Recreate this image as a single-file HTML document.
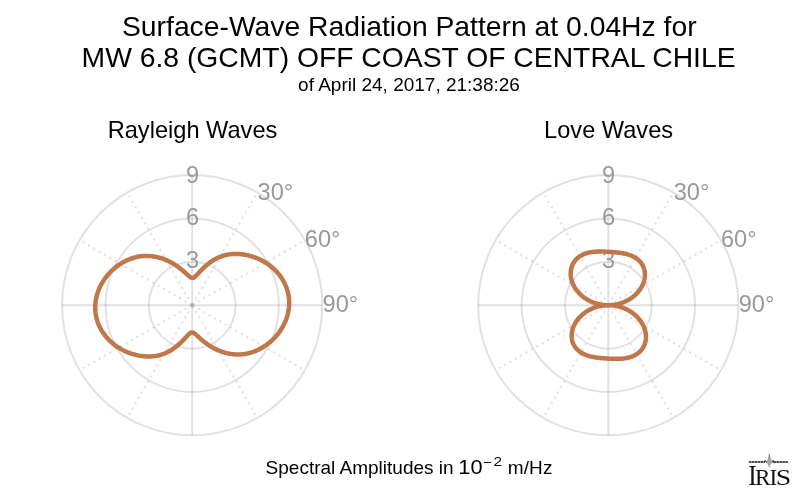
<!DOCTYPE html>
<html><head><meta charset="utf-8">
<style>
html,body{margin:0;padding:0;background:#fff;}
body{width:800px;height:496px;overflow:hidden;}
svg{display:block;}
text{font-family:"Liberation Sans",sans-serif;fill:#000;}
.g{fill:none;stroke:rgba(0,0,0,0.118);stroke-width:1.95;}
.gd{fill:none;stroke:rgba(0,0,0,0.118);stroke-width:2.1;stroke-dasharray:2.1 4.1;stroke-dashoffset:-0.5;}
.tk{font-size:23.6px;fill:#999;}
.c{fill:none;stroke:#c0774a;stroke-width:4.5;stroke-linejoin:round;}
.t1{font-size:28.3px;}
.t3{font-size:19px;}
.st{font-size:23.6px;}
.lg{font-family:"Liberation Serif",serif;fill:#111;}
</style></head><body>
<svg width="800" height="496" viewBox="0 0 800 496">
<rect width="800" height="496" fill="#fff"/>
<defs><filter id="idf" x="0" y="0" width="800" height="496" filterUnits="userSpaceOnUse"><feOffset dx="0" dy="0"/></filter></defs>
<g filter="url(#idf)">
<text class="t1" text-anchor="middle" x="409.3" y="36.4">Surface-Wave Radiation Pattern at 0.04Hz for</text>
<text class="t1" text-anchor="middle" x="408.6" y="66.7">MW 6.8 (GCMT) OFF COAST OF CENTRAL CHILE</text>
<text class="t3" text-anchor="middle" x="409" y="90.6">of April 24, 2017, 21:38:26</text>
<text class="st" text-anchor="middle" x="192.5" y="137.5">Rayleigh Waves</text>
<text class="st" text-anchor="middle" x="608.6" y="137.5">Love Waves</text>
<circle cx="192.2" cy="305.2" r="43.4" class="g"/>
<circle cx="192.2" cy="305.2" r="86.7" class="g"/>
<circle cx="192.2" cy="305.2" r="130.1" class="g"/>
<path class="g" d="M192.2,305.2 L192.20,175.15"/>
<path class="gd" d="M192.2,305.2 L257.22,192.57"/>
<path class="gd" d="M192.2,305.2 L304.83,240.17"/>
<path class="g" d="M192.2,305.2 L322.25,305.20"/>
<path class="gd" d="M192.2,305.2 L304.83,370.22"/>
<path class="gd" d="M192.2,305.2 L257.22,417.83"/>
<path class="g" d="M192.2,305.2 L192.20,435.25"/>
<path class="gd" d="M192.2,305.2 L127.17,417.83"/>
<path class="gd" d="M192.2,305.2 L79.57,370.23"/>
<path class="g" d="M192.2,305.2 L62.15,305.20"/>
<path class="gd" d="M192.2,305.2 L79.57,240.17"/>
<path class="gd" d="M192.2,305.2 L127.17,192.57"/>
<circle cx="608.3" cy="305.2" r="43.4" class="g"/>
<circle cx="608.3" cy="305.2" r="86.7" class="g"/>
<circle cx="608.3" cy="305.2" r="130.1" class="g"/>
<path class="g" d="M608.3,305.2 L608.30,175.15"/>
<path class="gd" d="M608.3,305.2 L673.32,192.57"/>
<path class="gd" d="M608.3,305.2 L720.93,240.17"/>
<path class="g" d="M608.3,305.2 L738.35,305.20"/>
<path class="gd" d="M608.3,305.2 L720.93,370.22"/>
<path class="gd" d="M608.3,305.2 L673.32,417.83"/>
<path class="g" d="M608.3,305.2 L608.30,435.25"/>
<path class="gd" d="M608.3,305.2 L543.27,417.83"/>
<path class="gd" d="M608.3,305.2 L495.67,370.23"/>
<path class="g" d="M608.3,305.2 L478.25,305.20"/>
<path class="gd" d="M608.3,305.2 L495.67,240.17"/>
<path class="gd" d="M608.3,305.2 L543.27,192.57"/>
<text class="tk" text-anchor="middle" x="192.5" y="182.9">9</text>
<text class="tk" text-anchor="middle" x="192.5" y="224.8">6</text>
<text class="tk" text-anchor="middle" x="192.5" y="268.1">3</text>
<text class="tk" x="257.6" y="199.8">30°</text>
<text class="tk" x="304.8" y="247.4">60°</text>
<text class="tk" x="322.6" y="311.9">90°</text>
<text class="tk" text-anchor="middle" x="608.6" y="182.9">9</text>
<text class="tk" text-anchor="middle" x="608.6" y="224.8">6</text>
<text class="tk" text-anchor="middle" x="608.6" y="268.1">3</text>
<text class="tk" x="673.7" y="199.8">30°</text>
<text class="tk" x="720.9" y="247.4">60°</text>
<text class="tk" x="738.7" y="311.9">90°</text>
<path class="c" d="M192.20,278.00 L192.44,278.00 L192.68,277.98 L192.91,277.93 L193.15,277.86 L193.40,277.77 L193.64,277.65 L193.89,277.51 L194.15,277.35 L194.41,277.17 L194.67,276.96 L194.94,276.74 L195.22,276.50 L195.50,276.24 L195.79,275.96 L196.09,275.67 L196.39,275.35 L196.71,275.03 L197.03,274.69 L197.37,274.33 L197.71,273.96 L198.06,273.58 L198.42,273.19 L198.80,272.78 L199.18,272.37 L199.57,271.94 L199.98,271.51 L200.39,271.07 L200.82,270.62 L201.26,270.17 L201.71,269.71 L202.17,269.24 L202.65,268.77 L203.13,268.30 L203.63,267.82 L204.14,267.35 L204.66,266.87 L205.19,266.39 L205.73,265.91 L206.28,265.43 L206.85,264.95 L207.43,264.48 L208.01,264.00 L208.61,263.54 L209.22,263.07 L209.84,262.61 L210.47,262.16 L211.11,261.72 L211.76,261.28 L212.41,260.85 L213.08,260.43 L213.75,260.01 L214.44,259.61 L215.13,259.22 L215.82,258.84 L216.53,258.47 L217.24,258.11 L217.96,257.76 L218.68,257.43 L219.40,257.12 L220.14,256.81 L220.87,256.53 L221.61,256.25 L222.35,256.00 L223.09,255.76 L223.84,255.53 L224.59,255.32 L225.34,255.13 L226.09,254.95 L226.85,254.79 L227.60,254.64 L228.36,254.50 L229.12,254.38 L229.88,254.27 L230.64,254.18 L231.41,254.10 L232.17,254.04 L232.94,253.98 L233.71,253.94 L234.47,253.92 L235.24,253.90 L236.01,253.90 L236.78,253.91 L237.55,253.94 L238.32,253.97 L239.10,254.02 L239.87,254.08 L240.64,254.15 L241.42,254.23 L242.19,254.33 L242.97,254.43 L243.75,254.55 L244.52,254.67 L245.30,254.81 L246.08,254.96 L246.86,255.12 L247.64,255.29 L248.41,255.47 L249.19,255.66 L249.97,255.86 L250.75,256.07 L251.53,256.30 L252.30,256.53 L253.07,256.78 L253.85,257.04 L254.62,257.31 L255.38,257.59 L256.15,257.88 L256.91,258.18 L257.67,258.50 L258.43,258.83 L259.18,259.16 L259.93,259.51 L260.68,259.87 L261.42,260.25 L262.16,260.63 L262.89,261.03 L263.62,261.43 L264.34,261.85 L265.06,262.28 L265.77,262.72 L266.48,263.17 L267.18,263.64 L267.87,264.11 L268.56,264.60 L269.24,265.09 L269.91,265.60 L270.58,266.12 L271.24,266.65 L271.89,267.19 L272.53,267.74 L273.16,268.30 L273.79,268.88 L274.40,269.46 L275.01,270.05 L275.61,270.65 L276.19,271.26 L276.77,271.89 L277.34,272.52 L277.90,273.16 L278.44,273.81 L278.98,274.47 L279.50,275.14 L280.01,275.82 L280.51,276.51 L281.00,277.20 L281.48,277.90 L281.94,278.62 L282.40,279.34 L282.84,280.06 L283.26,280.80 L283.68,281.54 L284.08,282.29 L284.46,283.05 L284.83,283.81 L285.19,284.58 L285.54,285.36 L285.86,286.14 L286.18,286.93 L286.48,287.73 L286.76,288.53 L287.03,289.33 L287.29,290.14 L287.52,290.95 L287.75,291.77 L287.95,292.59 L288.14,293.42 L288.32,294.25 L288.47,295.08 L288.62,295.92 L288.74,296.75 L288.85,297.59 L288.94,298.44 L289.01,299.28 L289.07,300.12 L289.12,300.97 L289.14,301.81 L289.15,302.66 L289.15,303.51 L289.13,304.35 L289.09,305.20 L289.04,306.05 L288.97,306.89 L288.89,307.73 L288.79,308.57 L288.67,309.41 L288.55,310.25 L288.40,311.08 L288.24,311.92 L288.07,312.75 L287.88,313.57 L287.68,314.39 L287.46,315.21 L287.23,316.03 L286.99,316.84 L286.73,317.65 L286.46,318.45 L286.17,319.24 L285.88,320.04 L285.57,320.82 L285.24,321.61 L284.90,322.38 L284.55,323.15 L284.19,323.92 L283.82,324.67 L283.43,325.43 L283.03,326.17 L282.62,326.91 L282.20,327.64 L281.77,328.36 L281.33,329.08 L280.87,329.79 L280.41,330.49 L279.93,331.19 L279.44,331.87 L278.95,332.55 L278.44,333.22 L277.93,333.88 L277.40,334.54 L276.87,335.18 L276.32,335.82 L275.77,336.45 L275.21,337.07 L274.64,337.68 L274.07,338.28 L273.48,338.87 L272.89,339.45 L272.29,340.02 L271.68,340.59 L271.07,341.14 L270.44,341.69 L269.82,342.22 L269.18,342.75 L268.54,343.26 L267.89,343.77 L267.24,344.26 L266.58,344.75 L265.92,345.23 L265.25,345.69 L264.57,346.14 L263.89,346.59 L263.20,347.02 L262.51,347.44 L261.81,347.86 L261.10,348.26 L260.39,348.64 L259.68,349.02 L258.96,349.39 L258.24,349.74 L257.51,350.09 L256.78,350.42 L256.04,350.74 L255.30,351.04 L254.55,351.34 L253.80,351.62 L253.05,351.89 L252.29,352.15 L251.53,352.39 L250.76,352.62 L249.99,352.84 L249.22,353.05 L248.45,353.24 L247.67,353.42 L246.89,353.59 L246.11,353.74 L245.32,353.88 L244.54,354.00 L243.75,354.12 L242.95,354.21 L242.16,354.30 L241.37,354.37 L240.57,354.42 L239.77,354.46 L238.97,354.49 L238.17,354.50 L237.37,354.50 L236.57,354.48 L235.77,354.45 L234.98,354.41 L234.18,354.35 L233.38,354.28 L232.58,354.19 L231.79,354.09 L231.00,353.98 L230.21,353.85 L229.43,353.71 L228.64,353.56 L227.87,353.40 L227.09,353.23 L226.32,353.04 L225.56,352.84 L224.80,352.64 L224.05,352.42 L223.30,352.19 L222.56,351.95 L221.82,351.70 L221.09,351.44 L220.37,351.17 L219.66,350.89 L218.95,350.61 L218.25,350.31 L217.55,350.01 L216.87,349.70 L216.19,349.39 L215.52,349.06 L214.86,348.73 L214.21,348.40 L213.57,348.06 L212.93,347.71 L212.31,347.36 L211.69,347.00 L211.09,346.64 L210.49,346.28 L209.90,345.91 L209.32,345.54 L208.76,345.17 L208.20,344.79 L207.65,344.42 L207.11,344.04 L206.58,343.66 L206.06,343.28 L205.55,342.90 L205.05,342.52 L204.56,342.14 L204.08,341.77 L203.61,341.39 L203.15,341.02 L202.70,340.65 L202.26,340.28 L201.83,339.91 L201.40,339.55 L200.99,339.19 L200.59,338.84 L200.19,338.49 L199.81,338.15 L199.43,337.81 L199.06,337.48 L198.70,337.16 L198.35,336.84 L198.01,336.53 L197.67,336.23 L197.34,335.94 L197.02,335.65 L196.71,335.38 L196.40,335.11 L196.10,334.85 L195.81,334.60 L195.52,334.37 L195.24,334.14 L194.97,333.93 L194.70,333.72 L194.43,333.53 L194.17,333.35 L193.91,333.19 L193.66,333.03 L193.41,332.89 L193.16,332.77 L192.92,332.65 L192.68,332.55 L192.44,332.47 L192.20,332.40 L191.96,332.40 L191.72,332.42 L191.49,332.47 L191.25,332.54 L191.00,332.63 L190.76,332.75 L190.51,332.89 L190.25,333.05 L189.99,333.23 L189.73,333.44 L189.46,333.66 L189.18,333.90 L188.90,334.16 L188.61,334.44 L188.31,334.73 L188.01,335.05 L187.69,335.37 L187.37,335.71 L187.03,336.07 L186.69,336.44 L186.34,336.82 L185.98,337.21 L185.60,337.62 L185.22,338.03 L184.83,338.46 L184.42,338.89 L184.01,339.33 L183.58,339.78 L183.14,340.23 L182.69,340.69 L182.23,341.16 L181.75,341.63 L181.27,342.10 L180.77,342.58 L180.26,343.05 L179.74,343.53 L179.21,344.01 L178.67,344.49 L178.12,344.97 L177.55,345.45 L176.97,345.92 L176.39,346.40 L175.79,346.86 L175.18,347.33 L174.56,347.79 L173.93,348.24 L173.29,348.68 L172.64,349.12 L171.99,349.55 L171.32,349.97 L170.65,350.39 L169.96,350.79 L169.27,351.18 L168.58,351.56 L167.87,351.93 L167.16,352.29 L166.44,352.64 L165.72,352.97 L165.00,353.28 L164.26,353.59 L163.53,353.87 L162.79,354.15 L162.05,354.40 L161.31,354.64 L160.56,354.87 L159.81,355.08 L159.06,355.27 L158.31,355.45 L157.55,355.61 L156.80,355.76 L156.04,355.90 L155.28,356.02 L154.52,356.13 L153.76,356.22 L152.99,356.30 L152.23,356.36 L151.46,356.42 L150.69,356.46 L149.93,356.48 L149.16,356.50 L148.39,356.50 L147.62,356.49 L146.85,356.46 L146.08,356.43 L145.30,356.38 L144.53,356.32 L143.76,356.25 L142.98,356.17 L142.21,356.07 L141.43,355.97 L140.65,355.85 L139.88,355.73 L139.10,355.59 L138.32,355.44 L137.54,355.28 L136.76,355.11 L135.99,354.93 L135.21,354.74 L134.43,354.54 L133.65,354.33 L132.87,354.10 L132.10,353.87 L131.33,353.62 L130.55,353.36 L129.78,353.09 L129.02,352.81 L128.25,352.52 L127.49,352.22 L126.73,351.90 L125.97,351.57 L125.22,351.24 L124.47,350.89 L123.72,350.53 L122.98,350.15 L122.24,349.77 L121.51,349.37 L120.78,348.97 L120.06,348.55 L119.34,348.12 L118.63,347.68 L117.92,347.23 L117.22,346.76 L116.53,346.29 L115.84,345.80 L115.16,345.31 L114.49,344.80 L113.82,344.28 L113.16,343.75 L112.51,343.21 L111.87,342.66 L111.24,342.10 L110.61,341.52 L110.00,340.94 L109.39,340.35 L108.79,339.75 L108.21,339.14 L107.63,338.51 L107.06,337.88 L106.50,337.24 L105.96,336.59 L105.42,335.93 L104.90,335.26 L104.39,334.58 L103.89,333.89 L103.40,333.20 L102.92,332.50 L102.46,331.78 L102.00,331.06 L101.56,330.34 L101.14,329.60 L100.72,328.86 L100.32,328.11 L99.94,327.35 L99.57,326.59 L99.21,325.82 L98.86,325.04 L98.54,324.26 L98.22,323.47 L97.92,322.67 L97.64,321.87 L97.37,321.07 L97.11,320.26 L96.88,319.45 L96.65,318.63 L96.45,317.81 L96.26,316.98 L96.08,316.15 L95.93,315.32 L95.78,314.48 L95.66,313.65 L95.55,312.81 L95.46,311.96 L95.39,311.12 L95.33,310.28 L95.28,309.43 L95.26,308.59 L95.25,307.74 L95.25,306.89 L95.27,306.05 L95.31,305.20 L95.36,304.35 L95.43,303.51 L95.51,302.67 L95.61,301.83 L95.73,300.99 L95.85,300.15 L96.00,299.32 L96.16,298.48 L96.33,297.65 L96.52,296.83 L96.72,296.01 L96.94,295.19 L97.17,294.37 L97.41,293.56 L97.67,292.75 L97.94,291.95 L98.23,291.16 L98.52,290.36 L98.83,289.58 L99.16,288.79 L99.50,288.02 L99.85,287.25 L100.21,286.48 L100.58,285.73 L100.97,284.97 L101.37,284.23 L101.78,283.49 L102.20,282.76 L102.63,282.04 L103.07,281.32 L103.53,280.61 L103.99,279.91 L104.47,279.21 L104.96,278.53 L105.45,277.85 L105.96,277.18 L106.47,276.52 L107.00,275.86 L107.53,275.22 L108.08,274.58 L108.63,273.95 L109.19,273.33 L109.76,272.72 L110.33,272.12 L110.92,271.53 L111.51,270.95 L112.11,270.38 L112.72,269.81 L113.33,269.26 L113.96,268.71 L114.58,268.18 L115.22,267.65 L115.86,267.14 L116.51,266.63 L117.16,266.14 L117.82,265.65 L118.48,265.17 L119.15,264.71 L119.83,264.26 L120.51,263.81 L121.20,263.38 L121.89,262.96 L122.59,262.54 L123.30,262.14 L124.01,261.76 L124.72,261.38 L125.44,261.01 L126.16,260.66 L126.89,260.31 L127.62,259.98 L128.36,259.66 L129.10,259.36 L129.85,259.06 L130.60,258.78 L131.35,258.51 L132.11,258.25 L132.87,258.01 L133.64,257.78 L134.41,257.56 L135.18,257.35 L135.95,257.16 L136.73,256.98 L137.51,256.81 L138.29,256.66 L139.08,256.52 L139.86,256.40 L140.65,256.28 L141.45,256.19 L142.24,256.10 L143.03,256.03 L143.83,255.98 L144.63,255.94 L145.43,255.91 L146.23,255.90 L147.03,255.90 L147.83,255.92 L148.63,255.95 L149.42,255.99 L150.22,256.05 L151.02,256.12 L151.82,256.21 L152.61,256.31 L153.40,256.42 L154.19,256.55 L154.97,256.69 L155.76,256.84 L156.53,257.00 L157.31,257.17 L158.08,257.36 L158.84,257.56 L159.60,257.76 L160.35,257.98 L161.10,258.21 L161.84,258.45 L162.58,258.70 L163.31,258.96 L164.03,259.23 L164.74,259.51 L165.45,259.79 L166.15,260.09 L166.85,260.39 L167.53,260.70 L168.21,261.01 L168.88,261.34 L169.54,261.67 L170.19,262.00 L170.83,262.34 L171.47,262.69 L172.09,263.04 L172.71,263.40 L173.31,263.76 L173.91,264.12 L174.50,264.49 L175.08,264.86 L175.64,265.23 L176.20,265.61 L176.75,265.98 L177.29,266.36 L177.82,266.74 L178.34,267.12 L178.85,267.50 L179.35,267.88 L179.84,268.26 L180.32,268.63 L180.79,269.01 L181.25,269.38 L181.70,269.75 L182.14,270.12 L182.57,270.49 L183.00,270.85 L183.41,271.21 L183.81,271.56 L184.21,271.91 L184.59,272.25 L184.97,272.59 L185.34,272.92 L185.70,273.24 L186.05,273.56 L186.39,273.87 L186.73,274.17 L187.06,274.46 L187.38,274.75 L187.69,275.02 L188.00,275.29 L188.30,275.55 L188.59,275.80 L188.88,276.03 L189.16,276.26 L189.43,276.47 L189.70,276.68 L189.97,276.87 L190.23,277.05 L190.49,277.21 L190.74,277.37 L190.99,277.51 L191.24,277.63 L191.48,277.75 L191.72,277.85 L191.96,277.93 Z"/>
<path class="c" d="M608.30,251.80 L608.77,251.82 L609.23,251.85 L609.70,251.88 L610.16,251.91 L610.63,251.94 L611.09,251.97 L611.55,252.01 L612.02,252.04 L612.48,252.07 L612.94,252.11 L613.41,252.15 L613.87,252.18 L614.34,252.22 L614.80,252.26 L615.26,252.31 L615.73,252.35 L616.19,252.39 L616.66,252.44 L617.12,252.49 L617.59,252.54 L618.05,252.59 L618.52,252.64 L618.98,252.70 L619.45,252.76 L619.91,252.82 L620.38,252.88 L620.84,252.95 L621.31,253.02 L621.78,253.09 L622.24,253.17 L622.71,253.25 L623.17,253.33 L623.64,253.42 L624.10,253.51 L624.57,253.61 L625.03,253.71 L625.49,253.82 L625.96,253.92 L626.42,254.04 L626.88,254.16 L627.34,254.28 L627.79,254.42 L628.25,254.55 L628.71,254.69 L629.16,254.84 L629.61,255.00 L630.06,255.16 L630.51,255.32 L630.95,255.50 L631.39,255.68 L631.83,255.86 L632.27,256.06 L632.70,256.26 L633.13,256.47 L633.55,256.69 L633.98,256.91 L634.39,257.14 L634.81,257.38 L635.21,257.63 L635.62,257.88 L636.02,258.15 L636.41,258.42 L636.80,258.70 L637.18,258.99 L637.55,259.28 L637.92,259.59 L638.28,259.90 L638.64,260.22 L638.99,260.55 L639.33,260.89 L639.66,261.23 L639.99,261.59 L640.30,261.95 L640.61,262.32 L640.91,262.70 L641.20,263.09 L641.49,263.48 L641.76,263.88 L642.02,264.29 L642.27,264.71 L642.52,265.14 L642.75,265.57 L642.97,266.01 L643.18,266.46 L643.38,266.92 L643.57,267.38 L643.75,267.85 L643.91,268.32 L644.07,268.80 L644.21,269.29 L644.34,269.79 L644.45,270.29 L644.56,270.79 L644.65,271.30 L644.73,271.82 L644.79,272.34 L644.85,272.87 L644.89,273.40 L644.91,273.93 L644.93,274.47 L644.92,275.01 L644.91,275.55 L644.88,276.10 L644.84,276.65 L644.78,277.21 L644.71,277.76 L644.63,278.32 L644.53,278.88 L644.42,279.44 L644.29,280.00 L644.15,280.56 L644.00,281.12 L643.83,281.68 L643.65,282.25 L643.45,282.81 L643.24,283.37 L643.01,283.93 L642.78,284.48 L642.52,285.04 L642.26,285.59 L641.98,286.15 L641.69,286.69 L641.38,287.24 L641.06,287.78 L640.73,288.32 L640.38,288.86 L640.02,289.39 L639.65,289.91 L639.26,290.43 L638.86,290.95 L638.45,291.46 L638.03,291.96 L637.60,292.46 L637.15,292.95 L636.69,293.44 L636.22,293.92 L635.74,294.39 L635.25,294.85 L634.75,295.31 L634.24,295.76 L633.71,296.20 L633.18,296.63 L632.63,297.06 L632.08,297.47 L631.52,297.88 L630.94,298.28 L630.36,298.66 L629.77,299.04 L629.17,299.41 L628.57,299.77 L627.95,300.12 L627.33,300.46 L626.70,300.78 L626.06,301.10 L625.42,301.41 L624.77,301.70 L624.11,301.98 L623.45,302.26 L622.78,302.52 L622.10,302.77 L621.42,303.00 L620.74,303.23 L620.05,303.44 L619.36,303.65 L618.66,303.84 L617.96,304.01 L617.25,304.18 L616.54,304.33 L615.83,304.48 L615.12,304.60 L614.40,304.72 L613.68,304.82 L612.96,304.92 L612.24,304.99 L611.51,305.06 L610.79,305.11 L610.06,305.15 L609.34,305.18 L608.61,305.20 L608.71,305.20 L609.44,305.21 L610.16,305.23 L610.89,305.27 L611.61,305.32 L612.34,305.38 L613.06,305.45 L613.78,305.54 L614.50,305.63 L615.22,305.74 L615.94,305.87 L616.65,306.00 L617.36,306.15 L618.07,306.31 L618.77,306.49 L619.47,306.67 L620.17,306.87 L620.86,307.08 L621.55,307.30 L622.23,307.53 L622.91,307.78 L623.59,308.03 L624.25,308.30 L624.91,308.58 L625.57,308.87 L626.22,309.17 L626.86,309.49 L627.50,309.81 L628.13,310.14 L628.75,310.49 L629.36,310.84 L629.97,311.21 L630.57,311.59 L631.16,311.97 L631.74,312.37 L632.31,312.77 L632.88,313.19 L633.43,313.61 L633.98,314.04 L634.51,314.48 L635.04,314.93 L635.55,315.39 L636.05,315.85 L636.55,316.33 L637.03,316.81 L637.50,317.30 L637.96,317.79 L638.41,318.29 L638.85,318.80 L639.28,319.32 L639.69,319.84 L640.09,320.36 L640.48,320.90 L640.86,321.43 L641.22,321.97 L641.57,322.52 L641.91,323.07 L642.24,323.63 L642.55,324.19 L642.85,324.75 L643.14,325.31 L643.41,325.88 L643.67,326.45 L643.91,327.02 L644.14,327.60 L644.36,328.17 L644.57,328.75 L644.76,329.33 L644.93,329.91 L645.09,330.49 L645.24,331.07 L645.38,331.65 L645.50,332.23 L645.60,332.80 L645.69,333.38 L645.77,333.95 L645.84,334.53 L645.89,335.10 L645.92,335.67 L645.94,336.23 L645.95,336.79 L645.95,337.35 L645.93,337.91 L645.90,338.46 L645.85,339.01 L645.79,339.55 L645.72,340.09 L645.63,340.62 L645.53,341.15 L645.42,341.68 L645.29,342.19 L645.16,342.71 L645.01,343.21 L644.84,343.71 L644.67,344.20 L644.48,344.69 L644.28,345.17 L644.08,345.64 L643.85,346.10 L643.62,346.56 L643.38,347.00 L643.12,347.45 L642.86,347.88 L642.59,348.30 L642.30,348.72 L642.01,349.13 L641.70,349.53 L641.39,349.92 L641.07,350.30 L640.73,350.67 L640.39,351.03 L640.05,351.39 L639.69,351.74 L639.32,352.07 L638.95,352.40 L638.57,352.72 L638.19,353.03 L637.79,353.33 L637.39,353.62 L636.99,353.90 L636.58,354.18 L636.16,354.44 L635.74,354.69 L635.31,354.94 L634.87,355.18 L634.44,355.41 L633.99,355.63 L633.55,355.84 L633.10,356.04 L632.64,356.23 L632.18,356.42 L631.72,356.60 L631.26,356.77 L630.79,356.93 L630.32,357.08 L629.85,357.23 L629.38,357.36 L628.90,357.49 L628.42,357.62 L627.94,357.73 L627.46,357.84 L626.98,357.95 L626.49,358.04 L626.01,358.13 L625.53,358.21 L625.04,358.29 L624.55,358.36 L624.07,358.43 L623.58,358.49 L623.09,358.55 L622.61,358.60 L622.12,358.64 L621.63,358.68 L621.15,358.72 L620.66,358.75 L620.18,358.78 L619.69,358.80 L619.21,358.82 L618.73,358.84 L618.24,358.85 L617.76,358.86 L617.28,358.87 L616.80,358.87 L616.32,358.87 L615.84,358.87 L615.37,358.87 L614.89,358.86 L614.41,358.85 L613.94,358.84 L613.46,358.83 L612.99,358.82 L612.52,358.80 L612.05,358.79 L611.58,358.77 L611.11,358.75 L610.64,358.73 L610.17,358.70 L609.70,358.68 L609.23,358.66 L608.77,358.63 L608.30,358.60 L607.83,358.58 L607.37,358.55 L606.90,358.52 L606.44,358.49 L605.97,358.46 L605.51,358.43 L605.05,358.39 L604.58,358.36 L604.12,358.33 L603.66,358.29 L603.19,358.25 L602.73,358.22 L602.26,358.18 L601.80,358.14 L601.34,358.09 L600.87,358.05 L600.41,358.01 L599.94,357.96 L599.48,357.91 L599.01,357.86 L598.55,357.81 L598.08,357.76 L597.62,357.70 L597.15,357.64 L596.69,357.58 L596.22,357.52 L595.76,357.45 L595.29,357.38 L594.82,357.31 L594.36,357.23 L593.89,357.15 L593.43,357.07 L592.96,356.98 L592.50,356.89 L592.03,356.79 L591.57,356.69 L591.11,356.58 L590.64,356.48 L590.18,356.36 L589.72,356.24 L589.26,356.12 L588.81,355.98 L588.35,355.85 L587.89,355.71 L587.44,355.56 L586.99,355.40 L586.54,355.24 L586.09,355.08 L585.65,354.90 L585.21,354.72 L584.77,354.54 L584.33,354.34 L583.90,354.14 L583.47,353.93 L583.05,353.71 L582.62,353.49 L582.21,353.26 L581.79,353.02 L581.39,352.77 L580.98,352.52 L580.58,352.25 L580.19,351.98 L579.80,351.70 L579.42,351.41 L579.05,351.12 L578.68,350.81 L578.32,350.50 L577.96,350.18 L577.61,349.85 L577.27,349.51 L576.94,349.17 L576.61,348.81 L576.30,348.45 L575.99,348.08 L575.69,347.70 L575.40,347.31 L575.11,346.92 L574.84,346.52 L574.58,346.11 L574.33,345.69 L574.08,345.26 L573.85,344.83 L573.63,344.39 L573.42,343.94 L573.22,343.48 L573.03,343.02 L572.85,342.55 L572.69,342.08 L572.53,341.60 L572.39,341.11 L572.26,340.61 L572.15,340.11 L572.04,339.61 L571.95,339.10 L571.87,338.58 L571.81,338.06 L571.75,337.53 L571.71,337.00 L571.69,336.47 L571.67,335.93 L571.68,335.39 L571.69,334.85 L571.72,334.30 L571.76,333.75 L571.82,333.19 L571.89,332.64 L571.97,332.08 L572.07,331.52 L572.18,330.96 L572.31,330.40 L572.45,329.84 L572.60,329.28 L572.77,328.72 L572.95,328.15 L573.15,327.59 L573.36,327.03 L573.59,326.47 L573.82,325.92 L574.08,325.36 L574.34,324.81 L574.62,324.25 L574.91,323.71 L575.22,323.16 L575.54,322.62 L575.87,322.08 L576.22,321.54 L576.58,321.01 L576.95,320.49 L577.34,319.97 L577.74,319.45 L578.15,318.94 L578.57,318.44 L579.00,317.94 L579.45,317.45 L579.91,316.96 L580.38,316.48 L580.86,316.01 L581.35,315.55 L581.85,315.09 L582.36,314.64 L582.89,314.20 L583.42,313.77 L583.97,313.34 L584.52,312.93 L585.08,312.52 L585.66,312.12 L586.24,311.74 L586.83,311.36 L587.43,310.99 L588.03,310.63 L588.65,310.28 L589.27,309.94 L589.90,309.62 L590.54,309.30 L591.18,308.99 L591.83,308.70 L592.49,308.42 L593.15,308.14 L593.82,307.88 L594.50,307.63 L595.18,307.40 L595.86,307.17 L596.55,306.96 L597.24,306.75 L597.94,306.56 L598.64,306.39 L599.35,306.22 L600.06,306.07 L600.77,305.92 L601.48,305.80 L602.20,305.68 L602.92,305.58 L603.64,305.48 L604.36,305.41 L605.09,305.34 L605.81,305.29 L606.54,305.25 L607.26,305.22 L607.99,305.20 L607.89,305.20 L607.16,305.19 L606.44,305.17 L605.71,305.13 L604.99,305.08 L604.26,305.02 L603.54,304.95 L602.82,304.86 L602.10,304.77 L601.38,304.66 L600.66,304.53 L599.95,304.40 L599.24,304.25 L598.53,304.09 L597.83,303.91 L597.13,303.73 L596.43,303.53 L595.74,303.32 L595.05,303.10 L594.37,302.87 L593.69,302.62 L593.01,302.37 L592.35,302.10 L591.69,301.82 L591.03,301.53 L590.38,301.23 L589.74,300.91 L589.10,300.59 L588.47,300.26 L587.85,299.91 L587.24,299.56 L586.63,299.19 L586.03,298.81 L585.44,298.43 L584.86,298.03 L584.29,297.63 L583.72,297.21 L583.17,296.79 L582.62,296.36 L582.09,295.92 L581.56,295.47 L581.05,295.01 L580.55,294.55 L580.05,294.07 L579.57,293.59 L579.10,293.10 L578.64,292.61 L578.19,292.11 L577.75,291.60 L577.32,291.08 L576.91,290.56 L576.51,290.04 L576.12,289.50 L575.74,288.97 L575.38,288.43 L575.03,287.88 L574.69,287.33 L574.36,286.77 L574.05,286.21 L573.75,285.65 L573.46,285.09 L573.19,284.52 L572.93,283.95 L572.69,283.38 L572.46,282.80 L572.24,282.23 L572.03,281.65 L571.84,281.07 L571.67,280.49 L571.51,279.91 L571.36,279.33 L571.22,278.75 L571.10,278.17 L571.00,277.60 L570.91,277.02 L570.83,276.45 L570.76,275.87 L570.71,275.30 L570.68,274.73 L570.66,274.17 L570.65,273.61 L570.65,273.05 L570.67,272.49 L570.70,271.94 L570.75,271.39 L570.81,270.85 L570.88,270.31 L570.97,269.78 L571.07,269.25 L571.18,268.72 L571.31,268.21 L571.44,267.69 L571.59,267.19 L571.76,266.69 L571.93,266.20 L572.12,265.71 L572.32,265.23 L572.52,264.76 L572.75,264.30 L572.98,263.84 L573.22,263.40 L573.48,262.95 L573.74,262.52 L574.01,262.10 L574.30,261.68 L574.59,261.27 L574.90,260.87 L575.21,260.48 L575.53,260.10 L575.87,259.73 L576.21,259.37 L576.55,259.01 L576.91,258.66 L577.28,258.33 L577.65,258.00 L578.03,257.68 L578.41,257.37 L578.81,257.07 L579.21,256.78 L579.61,256.50 L580.02,256.22 L580.44,255.96 L580.86,255.71 L581.29,255.46 L581.73,255.22 L582.16,254.99 L582.61,254.77 L583.05,254.56 L583.50,254.36 L583.96,254.17 L584.42,253.98 L584.88,253.80 L585.34,253.63 L585.81,253.47 L586.28,253.32 L586.75,253.17 L587.22,253.04 L587.70,252.91 L588.18,252.78 L588.66,252.67 L589.14,252.56 L589.62,252.45 L590.11,252.36 L590.59,252.27 L591.07,252.19 L591.56,252.11 L592.05,252.04 L592.53,251.97 L593.02,251.91 L593.51,251.85 L593.99,251.80 L594.48,251.76 L594.97,251.72 L595.45,251.68 L595.94,251.65 L596.42,251.62 L596.91,251.60 L597.39,251.58 L597.87,251.56 L598.36,251.55 L598.84,251.54 L599.32,251.53 L599.80,251.53 L600.28,251.53 L600.76,251.53 L601.23,251.53 L601.71,251.54 L602.19,251.55 L602.66,251.56 L603.14,251.57 L603.61,251.58 L604.08,251.60 L604.55,251.61 L605.02,251.63 L605.49,251.65 L605.96,251.67 L606.43,251.70 L606.90,251.72 L607.37,251.74 L607.83,251.77 Z"/>
<text class="t3" x="265.6" y="473.6">Spectral Amplitudes in</text>
<text x="458.3" y="473.6" font-size="20.2px" textLength="24.2" lengthAdjust="spacingAndGlyphs">10</text>
<text x="482.9" y="467" font-size="14px" textLength="8.6" lengthAdjust="spacingAndGlyphs">−</text>
<text x="493.6" y="465.9" font-size="13.4px" textLength="8.6" lengthAdjust="spacingAndGlyphs">2</text>
<text class="t3" x="507.8" y="473.6" textLength="44.6" lengthAdjust="spacing">m/Hz</text>
<g id="logo">
<text class="lg" x="748.3" y="484.5" font-size="29.3px" textLength="8.4" lengthAdjust="spacingAndGlyphs">I</text>
<text class="lg" x="755.0" y="484.5" font-size="23.1px">R</text>
<text class="lg" x="769.6" y="484.5" font-size="23.1px">I</text>
<text class="lg" x="775.8" y="484.5" font-size="23.6px" textLength="15.4" lengthAdjust="spacingAndGlyphs">S</text>
<path d="M748.9,462 H764.3 L765.6,460.4 M766.2,462 H767.4 M772,462 L773.2,461 L774.2,462.6 L775,462 H788.3" stroke="#1a1a1a" stroke-width="1.4" stroke-dasharray="2.6 0.35" fill="none"/>
<path d="M766.7,462.2 L768.3,457.6 L769.1,453.7 L769.6,453.7 L770.3,457.6 L772.5,462 L770.6,464.8 L769.3,467.3 L768.8,467.3 L767.9,464.6 Z" fill="#a4a4a4" stroke="none"/>
<path d="M769.3,453.7 V459" stroke="#666" stroke-width="0.6" fill="none"/>
</g>
</g>
</svg>
</body></html>
